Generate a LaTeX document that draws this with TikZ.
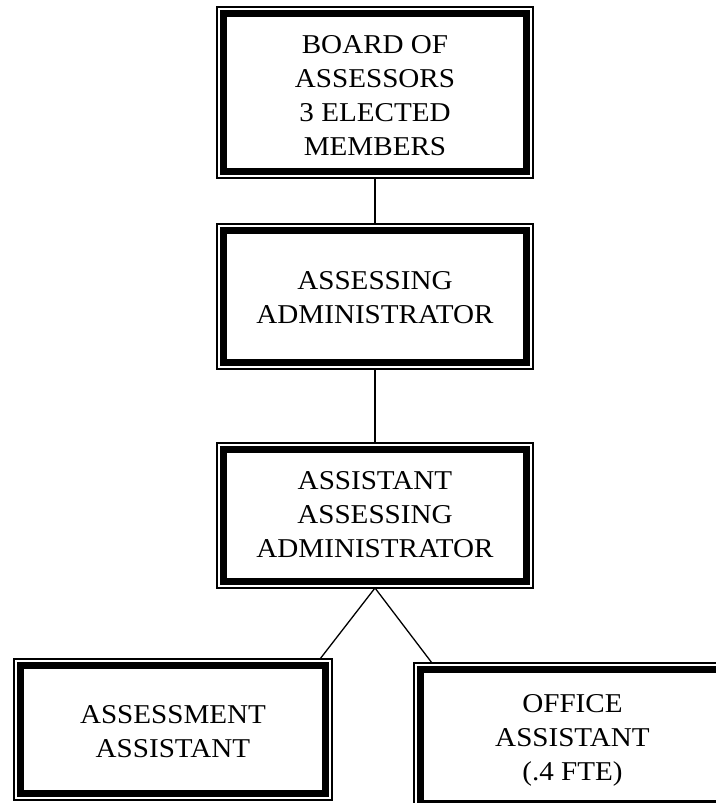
\documentclass[tikz,border=0pt]{standalone}
\usepackage{fontspec}
\setmainfont[FakeStretch=1.07]{Liberation Serif}
\usetikzlibrary{calc}
\newcommand{\orgtext}[2]{\raisebox{#1}[\height][\depth]{\begin{tabular}{@{}c@{}}#2\end{tabular}}}
\tikzset{
  orgbox/.style={draw, line width=1.4pt, minimum width=316pt, inner sep=0pt, outer sep=0pt,
    font=\fontsize{27.2}{34}\selectfont,
    path picture={\draw[line width=6.6pt]
      ([shift={(6.6pt,6.6pt)}]path picture bounding box.south west) rectangle
      ([shift={(-6.6pt,-6.6pt)}]path picture bounding box.north east);}},
  link/.style={line width=1.3pt}
}
\begin{document}
\begin{tikzpicture}[x=1pt,y=-1pt]
\useasboundingbox (0,0) rectangle (715,803);
\fill[white] (0,0) rectangle (715,803);
\node[orgbox, minimum height=171pt] (b1) at (375,92.5) {\orgtext{-5pt}{BOARD OF\\ASSESSORS\\3 ELECTED\\MEMBERS}};
\node[orgbox, minimum height=145pt] (b2) at (375,296.5) {\orgtext{-3pt}{ASSESSING\\ADMINISTRATOR}};
\node[orgbox, minimum height=145pt] (b3) at (375,515.5) {\orgtext{-1pt}{ASSISTANT\\ASSESSING\\ADMINISTRATOR}};
\node[orgbox, minimum width=318pt, minimum height=141pt] (b4) at (173,729.5) {\orgtext{-4pt}{ASSESSMENT\\ASSISTANT}};
\node[orgbox, minimum width=317pt, minimum height=147pt] (b5) at (572.5,736.5) {\orgtext{-3pt}{OFFICE\\ASSISTANT\\(.4 FTE)}};
\draw[link] (b1.south) -- (b2.north);
\draw[link] (b2.south) -- (b3.north);
\draw[link] (b3.south) -- ([xshift=-12pt]b4.north east);
\draw[link] (b3.south) -- ([xshift=18pt]b5.north west);
\end{tikzpicture}
\end{document}
